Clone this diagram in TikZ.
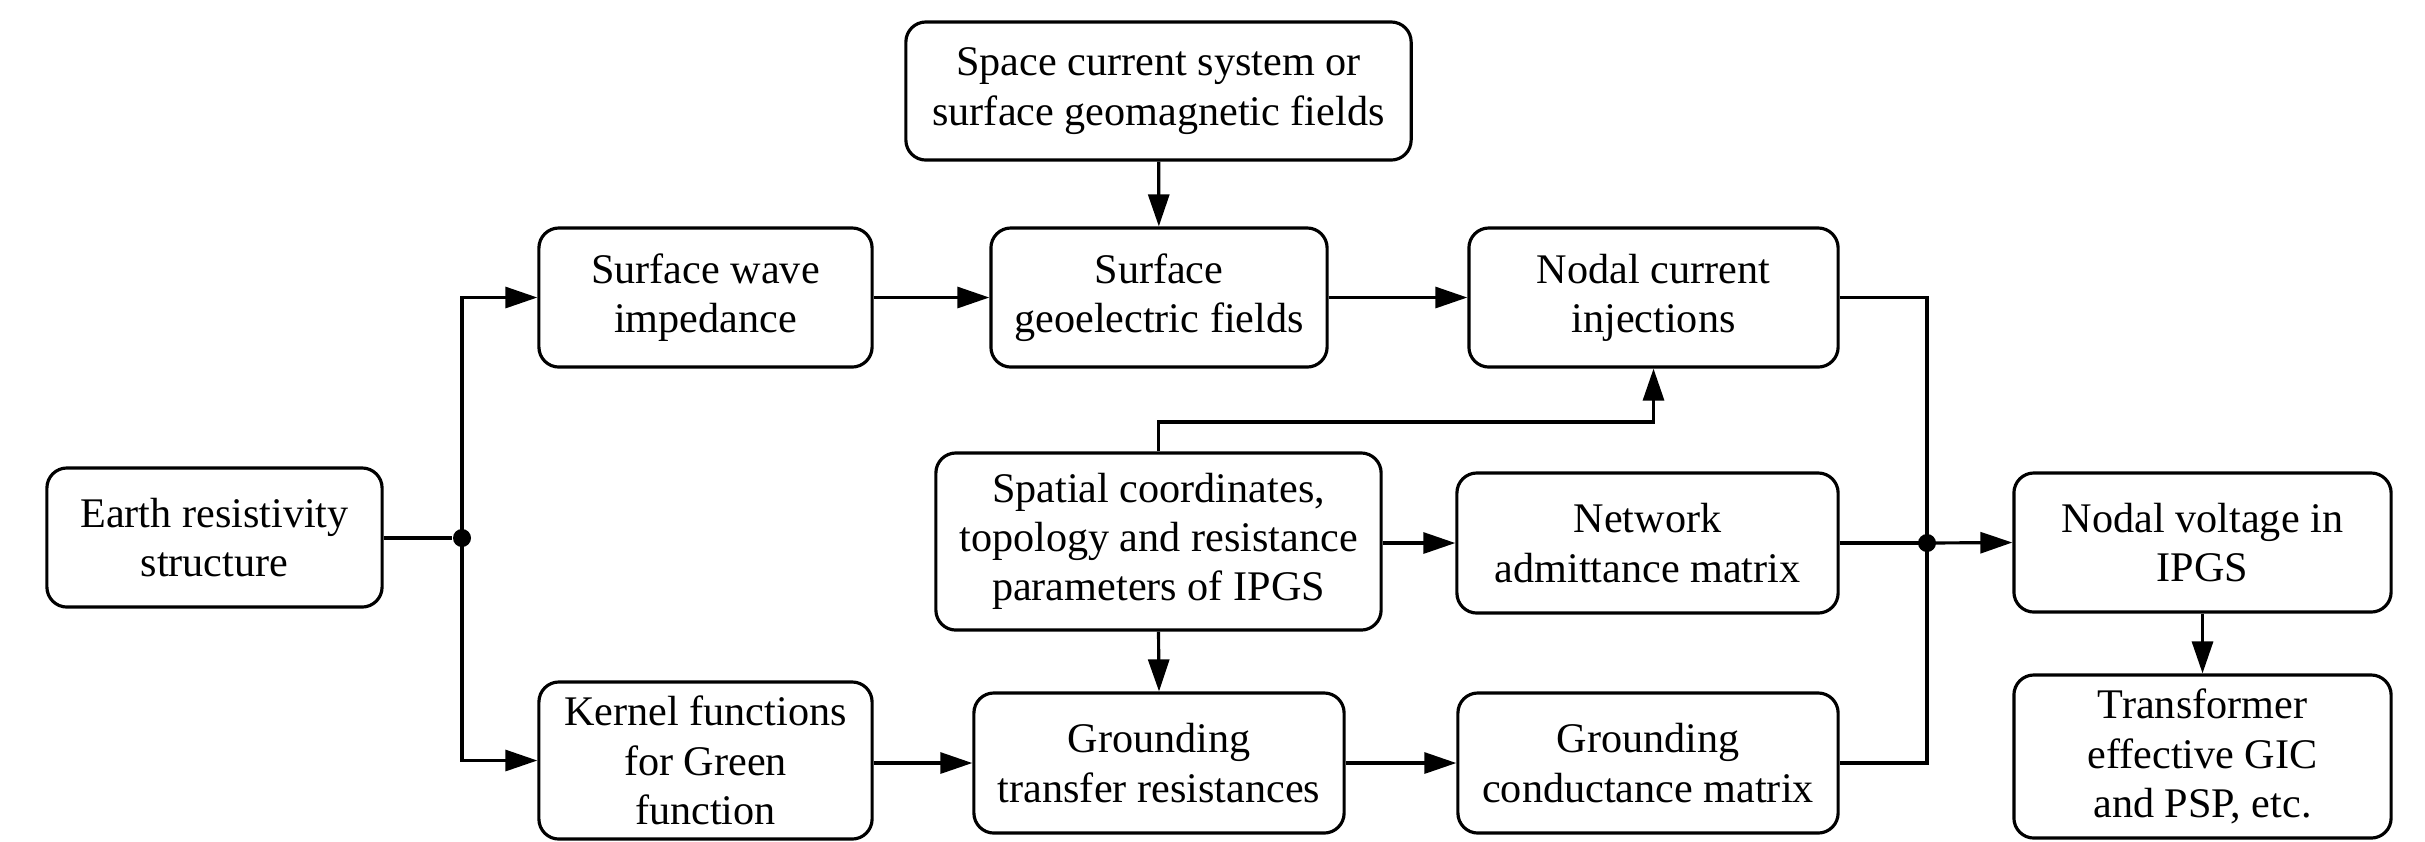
\documentclass[tikz,border=0pt]{standalone}
\usepackage{fontspec}
\setmainfont{Liberation Serif}
\usetikzlibrary{arrows.meta}
\begin{document}
\begin{tikzpicture}[x=0.01cm,y=-0.01cm,
  box/.style={draw=black,line width=0.9pt,rounded corners=0.2cm,align=center,inner sep=0pt,
    font=\fontsize{12}{14}\selectfont},
  arr/.style={line width=0.9pt,-{Triangle[length=3.2mm,width=2.1mm]}},
  ln/.style={line width=0.9pt},
  dot/.style={circle,fill=black,inner sep=0pt,minimum size=0.18cm}]
\useasboundingbox (0,0) rectangle (2425,841);
\node[box,minimum width=5.05cm,minimum height=1.38cm] (space) at (1158.5,91) {Space current system or\\surface geomagnetic fields};
\node[box,minimum width=3.33cm,minimum height=1.39cm] (wave) at (705.5,297.5) {Surface wave\\impedance};
\node[box,minimum width=3.36cm,minimum height=1.39cm] (geo) at (1159,297.5) {Surface\\geoelectric fields};
\node[box,minimum width=3.69cm,minimum height=1.39cm] (nci) at (1653.5,297.5) {Nodal current\\injections};
\node[box,minimum width=3.35cm,minimum height=1.39cm] (earth) at (214.5,537.5) {Earth resistivity\\structure};
\node[box,minimum width=4.45cm,minimum height=1.77cm] (spatial) at (1158.5,541.5) {Spatial coordinates,\\topology and resistance\\parameters of IPGS};
\node[box,minimum width=3.81cm,minimum height=1.40cm] (nam) at (1647.5,543) {Network\\admittance matrix};
\node[box,minimum width=3.77cm,minimum height=1.39cm] (nv) at (2202.5,542.5) {Nodal voltage in\\IPGS};
\node[box,minimum width=3.33cm,minimum height=1.57cm] (kernel) at (705.5,760.5) {Kernel functions\\for Green\\function};
\node[box,minimum width=3.70cm,minimum height=1.40cm] (gtr) at (1159,763) {Grounding\\transfer resistances};
\node[box,minimum width=3.80cm,minimum height=1.40cm] (gcm) at (1648,763) {Grounding\\conductance matrix};
\node[box,minimum width=3.77cm,minimum height=1.63cm] (trans) at (2202.5,756.5) {Transformer\\effective GIC\\and PSP, etc.};
\node[dot] (j1) at (462,538) {};
\node[dot] (j2) at (1927,543) {};
\coordinate (c1) at (1400,422);
% connectors
\draw[ln] (earth.east |- j1) -- (j1);
\draw[arr] (j1.center) |- (wave.west);
\draw[arr] (j1.center) |- (kernel.west);
\draw[arr] (wave) -- (geo);
\draw[arr] (geo) -- (nci);
\draw[arr] (space) -- (geo);
\draw[arr] (spatial.north) -- (spatial.north |- c1) -| (nci.south);
\draw[arr] (spatial.east |- nam.west) -- (nam.west);
\draw[arr] (spatial.south) -- (gtr.north);
\draw[arr] (kernel.east |- gtr.west) -- (gtr.west);
\draw[arr] (gtr) -- (gcm);
\draw[ln] (nci.east) -| (j2.center) |- (gcm.east);
\draw[ln] (nam.east) -- (j2.center);
\draw[arr] (j2.center) -- (nv.west);
\draw[arr] (nv) -- (trans);
\end{tikzpicture}
\end{document}
